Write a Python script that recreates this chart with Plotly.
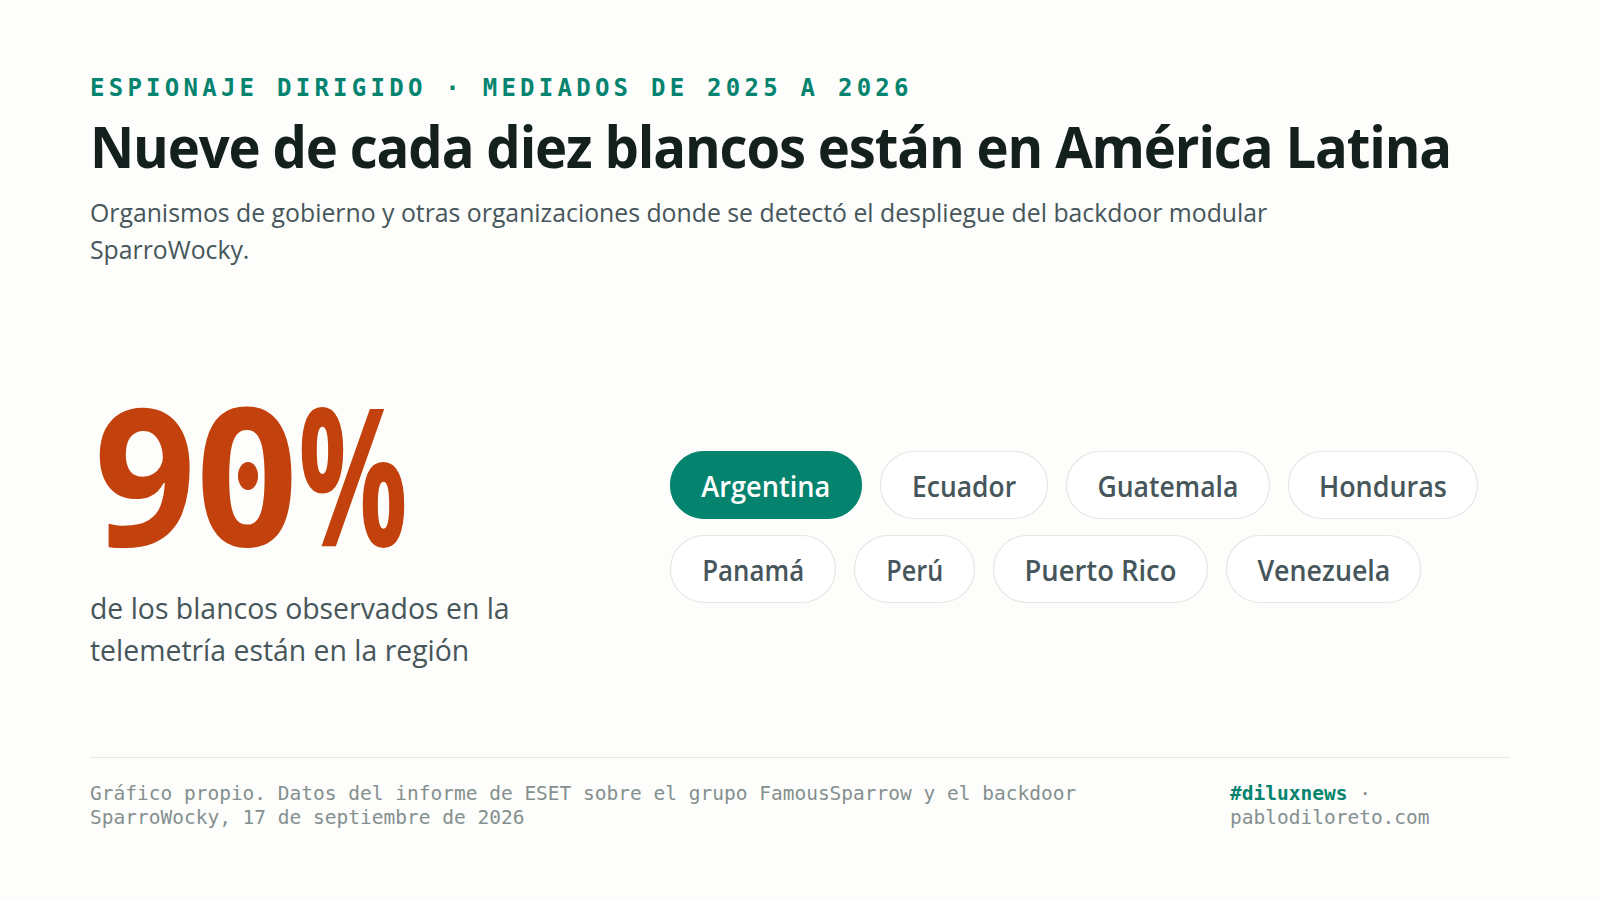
import json
import plotly.graph_objects as go

# contenido
eyebrow = "ESPIONAJE DIRIGIDO · MEDIADOS DE 2025 A 2026"
titulo = "Nueve de cada diez blancos están en América Latina"
subtitulo = ["Organismos de gobierno y otras organizaciones donde se detectó el despliegue del backdoor modular",
             "SparroWocky."]
porcentaje = 90
pie_cifra = ["de los blancos observados en la", "telemetría están en la región"]
fila1 = ["Argentina", "Ecuador", "Guatemala", "Honduras"]
fila2 = ["Panamá", "Perú", "Puerto Rico", "Venezuela"]
destacado = "Argentina"
fuente = ["Gráfico propio. Datos del informe de ESET sobre el grupo FamousSparrow y el backdoor",
          "SparroWocky, 17 de septiembre de 2026"]
hashtag = "#diluxnews"
web = "pablodiloreto.com"

# estilos
FONDO = "#fdfdfb"
VERDE = "#04846f"
NARANJA = "#c2410c"
OSCURO = "#14201e"
GRIS = "#46565a"
GRIS_CLARO = "#84908f"
BORDE = "#e6e6e3"
SANS = "Open Sans"
MONO = "DejaVu Sans Mono"

anchos = {"Argentina": 192, "Ecuador": 168, "Guatemala": 204, "Honduras": 190,
          "Panamá": 166, "Perú": 121, "Puerto Rico": 215, "Venezuela": 195}
# ancho del texto en px, la fuente original es mas estrecha que Open Sans
largo_texto = {"Argentina": 129, "Ecuador": 104, "Guatemala": 141, "Honduras": 128,
               "Panamá": 102, "Perú": 57, "Puerto Rico": 152, "Venezuela": 133,
               titulo: 1361, str(porcentaje): 204, "%": 110}


def texto(x, y, t, size, color, font=SANS, weight=400):
    return dict(x=x, y=y, text=t, xref="x", yref="y", xanchor="left", yanchor="middle",
                align="left", showarrow=False, font=dict(family=font, size=size, color=color, weight=weight))


def pastilla(x0, y0, w, h, fill, line):
    r = h / 2
    k = r * 0.5523
    x1 = x0 + w
    y1 = y0 + h
    p = (f"M {x0+r} {y0} L {x1-r} {y0} C {x1-r+k} {y0} {x1} {y0+r-k} {x1} {y0+r} "
         f"C {x1} {y0+r+k} {x1-r+k} {y1} {x1-r} {y1} L {x0+r} {y1} "
         f"C {x0+r-k} {y1} {x0} {y0+r+k} {x0} {y0+r} C {x0} {y0+r-k} {x0+r-k} {y0} {x0+r} {y0} Z")
    return dict(type="path", path=p, xref="x", yref="y", fillcolor=fill, line=dict(color=line, width=1.2))


X0 = 88
grande = '<span style="font-size:192px">'
anotaciones = [
    texto(X0, 88, eyebrow, 24, VERDE, MONO, 700),
    texto(X0, 146, titulo, 57, OSCURO, SANS, 700),
    texto(X0, 212, subtitulo[0], 24.8, GRIS),
    texto(X0, 249, subtitulo[1], 24.8, GRIS),
    texto(X0 + 4, 471, f'{grande}{porcentaje}</span>{grande}%</span>', 192, NARANJA, SANS, 700),
    texto(X0, 608, pie_cifra[0], 28.4, GRIS),
    texto(X0, 650, pie_cifra[1], 28.4, GRIS),
    texto(X0, 793, fuente[0], 19.5, GRIS_CLARO, MONO),
    texto(X0, 817, fuente[1], 19.5, GRIS_CLARO, MONO),
    texto(1228, 793, f'<b><span style="color:{VERDE}">{hashtag}</span></b> ·', 19.5, GRIS_CLARO, MONO),
    texto(1228, 817, web, 19.5, GRIS_CLARO, MONO),
]
formas = [
    dict(type="line", x0=90, x1=1510, y0=757.5, y1=757.5, xref="x", yref="y", line=dict(color=BORDE, width=1.2)),
    # el cero de la fuente original lleva un punto en el centro
    dict(type="circle", x0=238, x1=258, y0=462, y1=490, xref="x", yref="y", fillcolor=NARANJA, line=dict(width=0)),
]

for fila, y0 in [(fila1, 451.5), (fila2, 535.5)]:
    x = 670.5
    for pais in fila:
        activo = pais == destacado
        formas.append(pastilla(x, y0, anchos[pais] - 1, 67, VERDE if activo else "#ffffff", VERDE if activo else BORDE))
        a = texto(x + anchos[pais] / 2 - 0.5, y0 + 33.5, pais, 29, "#ffffff" if activo else GRIS, SANS, 600)
        a["xanchor"] = "center"
        a["align"] = "center"
        anotaciones.append(a)
        x += anchos[pais] + 18

fig = go.Figure()
fig.update_layout(
    width=1600, height=900, margin=dict(l=0, r=0, t=0, b=0),
    paper_bgcolor=FONDO, plot_bgcolor=FONDO, showlegend=False,
    xaxis=dict(range=[0, 1600], visible=False, fixedrange=True),
    yaxis=dict(range=[900, 0], visible=False, fixedrange=True),
    shapes=formas, annotations=anotaciones,
)

# plotly no tiene letter-spacing ni ancho de texto, se aplican despues del dibujo
post = "document.body.style.margin='0';"
post += f"var esp={json.dumps({eyebrow: '4.25px', titulo: '-1.2px'}, ensure_ascii=False)};"
post += f"var largo={json.dumps(largo_texto, ensure_ascii=False)};"
post += """
function ajusta(t){
  var s=t.textContent;
  if(esp[s]){t.style.letterSpacing=esp[s];}
  if(largo[s]){t.setAttribute('textLength',largo[s]);t.setAttribute('lengthAdjust','spacingAndGlyphs');}
}
document.querySelectorAll('.annotation-text').forEach(function(t){
  ajusta(t);
  t.querySelectorAll('tspan').forEach(ajusta);
});
"""
fig.write_html("out.html", post_script=post, config={"displayModeBar": False})
